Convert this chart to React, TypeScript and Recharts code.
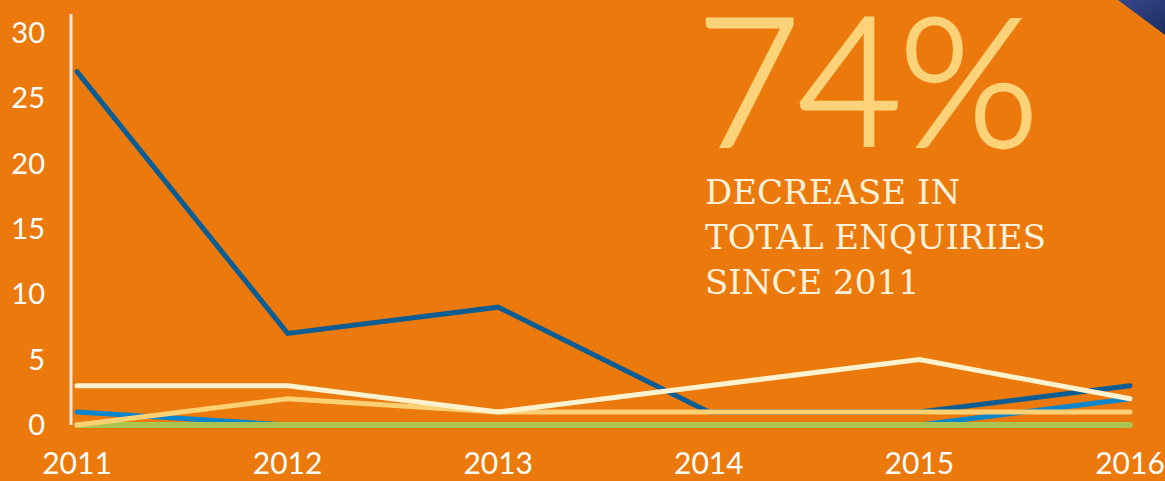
import React from "react";
import { LineChart, Line, XAxis, YAxis } from "recharts";

const years = ["2011", "2012", "2013", "2014", "2015", "2016"];
const darkBlue = [27, 7, 9, 1, 1, 3];
const lightBlue = [1, 0, 0, 0, 0, 2];
const cream = [3, 3, 1, 3, 5, 2];
const yellow = [0, 2, 1, 1, 1, 1];
const green = [0, 0, 0, 0, 0, 0];
const yTicks = [0, 5, 10, 15, 20, 25, 30];

const data = years.map((y, i) => ({
  year: y,
  darkBlue: darkBlue[i],
  lightBlue: lightBlue[i],
  cream: cream[i],
  yellow: yellow[i],
  green: green[i],
}));

const W = 1165;
const H = 481;
const font = "Lato, 'Noto Sans', sans-serif";

export default function App() {
  return (
    <div
      style={{
        position: "fixed",
        left: 0,
        top: 0,
        width: W,
        height: H,
        background: "#ec790b",
        overflow: "hidden",
        fontFamily: font,
      }}
    >
      {/* navy corner */}
      <svg width={W} height={H} style={{ position: "absolute", left: 0, top: 0 }}>
        <defs>
          <linearGradient id="navy" x1="0" y1="0" x2="1" y2="1">
            <stop offset="0%" stopColor="#35478a" />
            <stop offset="100%" stopColor="#1f2d60" />
          </linearGradient>
        </defs>
        <polygon points="1118,0 1165,0 1165,35" fill="url(#navy)" />
      </svg>

      <div
        style={{
          position: "absolute",
          left: 696,
          top: 6,
          fontSize: 180,
          fontWeight: 300,
          color: "#fdd37a",
          WebkitTextStroke: "3px #fdd37a",
          lineHeight: "140px",
          letterSpacing: -3,
        }}
      >
        74%
      </div>
      <div
        style={{
          position: "absolute",
          left: 705,
          top: 170,
          fontSize: 34,
          fontFamily: "'DejaVu Serif', serif",
          color: "#fff2dc",
          lineHeight: "45px",
        }}
      >
        DECREASE IN
        <br />
        TOTAL ENQUIRIES
        <br />
        SINCE 2011
      </div>

      <div style={{ position: "absolute", left: 0, top: 0 }}>
        <LineChart
          width={W}
          height={H}
          data={data}
          margin={{ top: 14, right: 35, bottom: 0, left: 11 }}
        >
          <XAxis
            dataKey="year"
            axisLine={false}
            tickLine={false}
            height={56}
            tickSize={0}
            tickMargin={28}
            padding={{ left: 6, right: 0 }}
            tick={{ fill: "#ffffff", fontSize: 30, fontFamily: font }}
            interval={0}
          />
          <YAxis
            width={60}
            domain={[0, 31.4]}
            ticks={yTicks}
            tickLine={false}
            tickSize={0}
            tickMargin={26}
            axisLine={{ stroke: "#e6e6e6", strokeWidth: 3 }}
            tick={{ fill: "#ffffff", fontSize: 29, fontFamily: font }}
            interval={0}
          />
          <Line
            type="linear"
            dataKey="lightBlue"
            stroke="#0a87cc"
            strokeWidth={5}
            dot={false}
            strokeLinecap="round"
            isAnimationActive={false}
          />
          <Line
            type="linear"
            dataKey="darkBlue"
            stroke="#0b5d93"
            strokeWidth={5}
            dot={false}
            strokeLinecap="round"
            isAnimationActive={false}
          />
          <Line
            type="linear"
            dataKey="green"
            stroke="#aac651"
            strokeWidth={6}
            dot={false}
            strokeLinecap="round"
            isAnimationActive={false}
          />
          <Line
            type="linear"
            dataKey="yellow"
            stroke="#fed074"
            strokeWidth={5}
            dot={false}
            strokeLinecap="round"
            isAnimationActive={false}
          />
          <Line
            type="linear"
            dataKey="cream"
            stroke="#fff3cf"
            strokeWidth={5}
            dot={false}
            strokeLinecap="round"
            isAnimationActive={false}
          />
        </LineChart>
      </div>
    </div>
  );
}
